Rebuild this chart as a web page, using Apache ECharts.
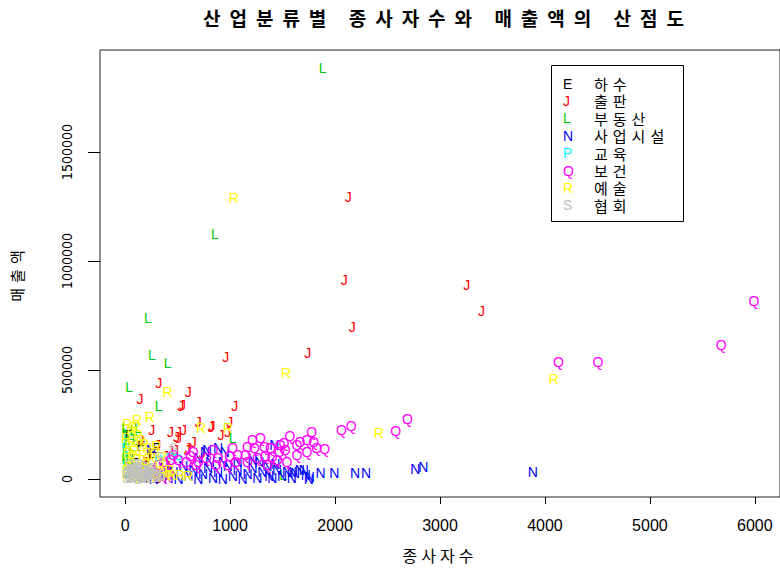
<!DOCTYPE html>
<html>
<head>
<meta charset="utf-8">
<script src="https://cdn.jsdelivr.net/npm/echarts@6/dist/echarts.min.js"></script>
<style>
  html, body { margin: 0; padding: 0; background: #fff; }
  #chart { width: 780px; height: 568px; }
  /* Hangul text is set with wide tracking */
  #chart text[style*="CJK"][style*="19px"] { letter-spacing: 9px; }
  #chart text[style*="CJK"][style*="16px"] { letter-spacing: 4px; }
  #chart text[style*="CJK"][style*="15px"] { letter-spacing: 5px; }
</style>
</head>
<body>
<div id="chart"></div>
<script>
// Industry codes, their Korean names and the colour used for each code
const codes  = ['E', 'J', 'L', 'N', 'P', 'Q', 'R', 'S'];
const names  = ['하수', '출판', '부동산', '사업시설', '교육', '보건', '예술', '협회'];
const colors = ['#000000', '#FF0000', '#00CD00', '#0000FF', '#00FFFF', '#FF00FF', '#FFFF00', '#BEBEBE'];

// Axis ticks
const xTicks = [0, 1000, 2000, 3000, 4000, 5000, 6000];
const yTicks = [0, 500000, 1000000, 1500000];

// [employees, sales] per business, grouped by industry code
const pointsE = [[40,200000],[150,150000],[260,120000],[90,90000],[200,60000],[60,30000],[300,140000]];

const pointsJ = [
  [2125,1294000],[2088,913000],[3254,890000],[3395,771000],[2163,697000],[1740,578000],
  [959,560000],[320,440000],[602,399000],[141,367000],[530,335000],[545,338000],[1044,335000],
  [696,261000],[828,243000],[997,261000],[433,216000],[508,216000],[555,225000],[254,225000],
  [912,202000],[649,170000],[508,188000],[602,142000],[433,128000],[480,133000],[489,193000],
  [818,239000],[978,216000],[310,156000],[386,105000],[734,119000],[592,133000],[226,110000],
  [179,78000],[320,5000],[260,40000],[400,60000],[150,180000]
];

const pointsL = [
  [1881,1885000],[856,1124000],[216,739000],[254,569000],[404,532000],[38,422000],[320,335000],
  [1025,188000],[1505,18000],[120,234000],
  [0,230000],[5,240000],[2,200000],[15,210000],[10,180000],[0,160000],[30,160000],[8,140000],
  [3,120000],[25,120000],[12,100000],[0,90000],[40,90000],[20,70000],[50,200000],[60,150000],
  [35,50000],[5,30000],[80,225000],[100,180000],[70,110000]
];

const pointsN = [
  [3884,32000],[2765,46000],[2840,55000],[2295,27500],[2191,27500],[1994,27500],[1862,27500],
  [1702,41000],[1759,9000],[1618,27500],[1373,14000],[1665,41000],[1721,18000],[1749,0],[1589,32000],
  [179,4600],[226,32000],[273,0],[320,18000],[367,50000],[414,4600],[461,32000],[508,0],
  [555,60000],[602,14000],[649,41000],[696,0],[743,23000],[790,50000],[837,4600],[884,32000],
  [931,0],[978,60000],[1025,14000],[1072,41000],[1119,0],[1166,23000],[1213,50000],[1260,4600],
  [1307,32000],[1354,60000],[1401,4600],[1448,41000],[1495,14000],[1542,32000],[1589,4600],
  [1213,87000],[1072,78000],[931,78000],[809,78000],[696,96000],[1279,78000],[1430,69000],
  [762,124000],[884,142000],[950,124000],[1420,156000],[245,133000],[781,133000]
];

const pointsP = [[20,190000],[10,140000],[30,100000],[430,96000],[500,90000],[320,87000],[15,60000]];

const pointsQ = [
  [5991,817000],[5680,615000],[4129,537000],[4505,537000],[2690,275000],[2577,220000],
  [2154,243000],[2060,225000],[1900,138000],
  [1571,197000],[1514,165000],[1665,170000],[1731,179000],[1778,216000],[1796,170000],
  [1636,156000],[1524,133000],[1383,142000],[1401,101000],[1288,188000],[1166,147000],
  [1232,142000],[1326,147000],[1477,156000],
  [508,87000],[696,78000],[884,96000],[978,64000],[1072,110000],[1166,78000],[1260,96000],
  [1354,64000],[1448,87000],[461,110000],[649,124000],[837,133000],[1025,142000],[367,78000],
  [1213,179000],[1542,78000],[1636,110000],[1731,124000],[1825,142000],
  [583,78000],[677,64000],[771,96000],[865,64000],[1053,78000],[1147,110000],[1335,105000],
  [1467,124000],[320,62000],[433,87000],[621,105000],[997,105000],
  [273,32000],[367,14000],[414,23000]
];

const pointsR = [
  [1035,1289000],[1533,486000],[404,399000],[4082,459000],[2417,211000],[724,234000],[978,234000],
  [113,270000],[235,284000],[20,250000],[100,240000],[60,220000],[120,200000],[10,188000],
  [70,170000],[180,160000],[150,180000],[40,150000],[300,150000],[210,140000],[90,130000],
  [20,120000],[280,120000],[170,110000],[60,100000],[350,100000],[250,95000],[110,90000],
  [30,80000],[200,70000],[80,60000],[330,60000],[45,60000],[130,50000],[50,40000],[230,40000],
  [15,40000],[420,40000],[150,30000],[360,30000],[100,20000],[260,20000],[440,20000],
  [520,18000],[400,15000],[600,12000],[20,10000],[300,10000],[140,8000],[85,5000],[190,4000]
];

const pointsS = [
  [15,5000],[30,12000],[45,3000],[60,20000],[75,8000],[90,30000],[105,15000],[120,2000],
  [140,25000],[160,10000],[180,40000],[200,6000],[220,18000],[240,32000],[260,4000],
  [280,22000],[300,12000],[50,45000],[110,55000],[170,60000],[25,35000],[80,48000],
  [130,38000],[210,28000],[250,50000],[320,8000],[35,62000],[95,68000],[150,3000],
  [190,14000],[230,44000],[10,25000],[65,33000],[270,36000],[340,20000],[125,70000],
  [460,140000],[320,100000]
];

const groups = [pointsE, pointsJ, pointsL, pointsN, pointsP, pointsQ, pointsR, pointsS];

const markerFont = '14px "Liberation Sans", Arial, sans-serif';
const hangulFamily = '"Noto Sans CJK KR", sans-serif';

// One custom series per industry: each business is drawn as its code letter
const series = groups.map((pts, i) => ({
  type: 'custom',
  name: names[i],
  data: pts,
  silent: true,
  animation: false,
  renderItem: (params, api) => {
    const p = api.coord([api.value(0), api.value(1)]);
    return {
      type: 'text',
      x: p[0],
      y: p[1],
      style: {
        text: codes[i],
        fill: colors[i],
        font: markerFont,
        align: 'center',
        verticalAlign: 'middle'
      }
    };
  }
}));

// Boxed key in the upper right of the plot
const legendX = 551, legendY = 65, legendW = 132, legendH = 156;
const rowY0 = 83.5, rowStep = 17.4;
const legendChildren = [{
  type: 'rect',
  shape: { x: legendX + 0.5, y: legendY + 0.5, width: legendW, height: legendH },
  style: { fill: '#fff', stroke: '#000', lineWidth: 1 }
}];
codes.forEach((c, i) => {
  legendChildren.push({
    type: 'text', x: 563, y: rowY0 + i * rowStep,
    style: { text: c, fill: colors[i], font: markerFont, align: 'left', verticalAlign: 'middle' }
  });
  legendChildren.push({
    type: 'text', x: 594, y: rowY0 + i * rowStep,
    style: { text: names[i], fill: '#000', font: '15px ' + hangulFamily, align: 'left', verticalAlign: 'middle' }
  });
});

const chart = echarts.init(document.getElementById('chart'), null, { renderer: 'svg' });
chart.setOption({
  animation: false,
  backgroundColor: '#fff',
  title: {
    text: '산업분류별 종사자수와 매출액의 산점도',
    left: 448,
    top: 8,
    padding: 0,
    textAlign: 'center',
    textStyle: { fontFamily: hangulFamily, fontSize: 19, fontWeight: 'bold', color: '#000' }
  },
  grid: {
    left: 100, top: 50, width: 689, height: 447,
    show: true, borderColor: '#222', borderWidth: 1, backgroundColor: 'transparent'
  },
  xAxis: {
    type: 'value',
    min: -240, max: 6240,
    axisLine: { show: false, onZero: false },
    splitLine: { show: false },
    axisTick: { show: true, length: 7, customValues: xTicks, lineStyle: { color: '#000' } },
    axisLabel: {
      customValues: xTicks, margin: 20, color: '#000',
      fontFamily: '"Liberation Sans", Arial, sans-serif', fontSize: 16,
      formatter: v => String(v)
    },
    name: '종사자수',
    nameLocation: 'middle',
    nameGap: 50,
    nameTextStyle: { fontFamily: hangulFamily, fontSize: 16, color: '#000' }
  },
  yAxis: {
    type: 'value',
    min: -82600, max: 1967900,
    axisLine: { show: false, onZero: false },
    splitLine: { show: false },
    axisTick: { show: true, length: 12, customValues: yTicks, lineStyle: { color: '#000' } },
    axisLabel: {
      customValues: yTicks, margin: 26, rotate: 90, color: '#000',
      fontFamily: '"Liberation Sans Narrow", "DejaVu Sans Condensed", sans-serif', fontSize: 14,
      formatter: v => String(v)
    },
    name: '매출액',
    nameLocation: 'middle',
    nameGap: 76,
    nameRotate: 90,
    nameTextStyle: { fontFamily: hangulFamily, fontSize: 15, color: '#000' }
  },
  graphic: [{ type: 'group', children: legendChildren }],
  series: series
});
</script>
</body>
</html>
